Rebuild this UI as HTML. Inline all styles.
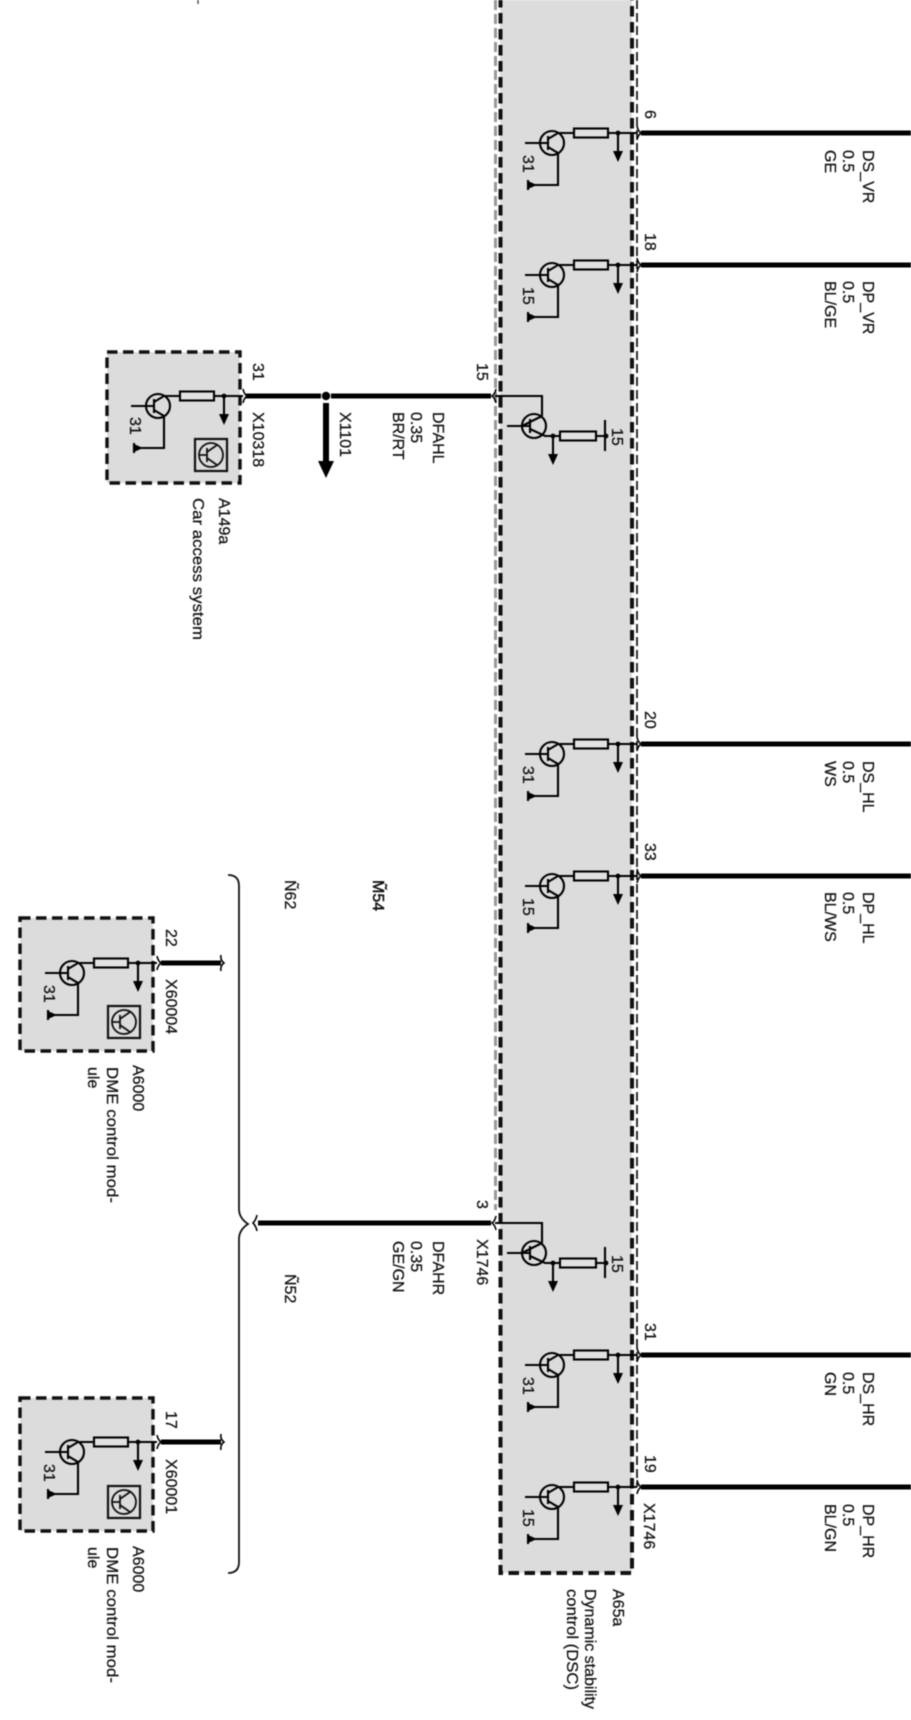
<!DOCTYPE html>
<html><head><meta charset="utf-8"><style>
html,body{margin:0;padding:0;background:#fff;width:911px;height:1720px;overflow:hidden}
svg{display:block;filter:blur(.4px)}
text{font-family:"Liberation Sans",sans-serif;font-size:16px;fill:#111;stroke:#111;stroke-width:.25px}
</style></head><body>
<svg width="911" height="1720" viewBox="0 0 911 1720" xmlns="http://www.w3.org/2000/svg">
<defs>
<g id="drv" fill="none" stroke="#000" stroke-width="2.1">
<circle cx="0" cy="10" r="12"/>
<path d="M-27 10H-4M-4 3V17M-4 6L6 0H22M-4 14L6 20V52H-24M-24 47V57M56 0H85M66 0V20"/>
<rect x="22" y="-4.5" width="34" height="9" fill="#e2e2e2"/>
<circle cx="66" cy="0" r="2.4" fill="#000" stroke="none"/>
<path d="M61 18H71L66 29Z" fill="#000" stroke="none"/>
<path d="M-24 48L-15 52L-24 56Z" fill="#000" stroke="none"/>
<path d="M85 -7Q86 -2 89 0Q86 2 85 7" stroke-width="1.6"/>
</g>
<g id="rcv" fill="none" stroke="#000" stroke-width="2.1">
<path d="M496 -7Q495 -2 492 0Q495 2 496 7" stroke-width="1.6"/>
<path d="M495 0H542V20M522 30L542 20M507 30H530M530 23V37M530 33L545 40H605M553 40V60M605 24V55"/>
<circle cx="534" cy="30" r="12"/>
<rect x="560" y="35.5" width="36" height="9" fill="#e2e2e2"/>
<circle cx="553" cy="40" r="2.4" fill="#000" stroke="none"/>
<circle cx="606" cy="40" r="2.4" fill="#000" stroke="none"/>
<path d="M548 58H558L553 69Z" fill="#000" stroke="none"/>
</g>
<g id="ico" fill="none" stroke="#111" stroke-width="1.8">
<rect x="-16" y="-16" width="32" height="32" stroke-width="2.2"/>
<circle cx="0" cy="0" r="12"/>
<path d="M-12 0H-4M-4 -7V7M-4 -3L6 -10M-4 3L6 10"/>
</g>
</defs>

<path d="M198 0V4" stroke="#555" stroke-width="1.5"/>

<!-- main box -->
<rect x="500" y="-5" width="132" height="1578" fill="#dcdcdc"/>
<path d="M495.5 0V1210" stroke="#999" stroke-width="3" stroke-dasharray="10 4" fill="none"/>
<path d="M637 0V1487" stroke="#111" stroke-width="1.7" stroke-dasharray="9 4" fill="none"/>
<path d="M500.5 -3V1573H632V-3" stroke="#111" stroke-width="4" stroke-dasharray="10.5 5.5" fill="none"/>

<!-- small boxes -->
<g fill="#dcdcdc" stroke="#111" stroke-width="3.4" stroke-dasharray="10.5 5.5">
<rect x="107" y="352" width="133" height="131"/>
<rect x="20" y="918" width="133" height="133"/>
<rect x="20" y="1398" width="133" height="133"/>
</g>

<use href="#drv" x="552" y="133"/>
<use href="#drv" x="552" y="265"/>
<use href="#drv" x="552" y="744"/>
<use href="#drv" x="552" y="876"/>
<use href="#drv" x="552" y="1355"/>
<use href="#drv" x="552" y="1487"/>
<use href="#drv" x="158" y="396"/>
<use href="#drv" x="72" y="963"/>
<use href="#drv" x="72" y="1442"/>
<use href="#rcv" x="0" y="396"/>
<use href="#rcv" x="0" y="1223"/>
<use href="#ico" x="211" y="455"/>
<use href="#ico" x="124" y="1022"/>
<use href="#ico" x="124" y="1502"/>

<!-- wires -->
<g stroke="#000" stroke-width="5" fill="none">
<path d="M641 133H911M641 265H911M641 744H911M641 876H911M641 1355H911M641 1487H911"/>
<path d="M246 396H321M331 396H491M258 1223H491M161 963H221M161 1442H221"/>
</g>
<path d="M221 955Q220 960 224 963Q220 966 221 971M221 1434Q220 1439 224 1442Q220 1445 221 1450" fill="none" stroke="#000" stroke-width="1.6"/>
<path d="M257 1215Q256 1220 253 1223Q256 1226 257 1231" fill="none" stroke="#000" stroke-width="1.6"/>
<circle cx="326" cy="396" r="4.2" fill="#000"/>
<path d="M326 403V466" stroke="#000" stroke-width="6"/>
<path d="M318 461H334L326 478Z" fill="#000"/>

<!-- brace -->
<path d="M228 875Q239 875 239 886V1209Q239 1218 248 1224Q239 1230 239 1239V1562Q239 1573 228 1573" fill="none" stroke="#111" stroke-width="1.8"/>

<!-- pin numbers -->
<text transform="translate(645,110) rotate(90)">6</text>
<text transform="translate(645,233) rotate(90)">18</text>
<text transform="translate(477,363) rotate(90)">15</text>
<text transform="translate(645,711) rotate(90)">20</text>
<text transform="translate(645,843) rotate(90)">33</text>
<text transform="translate(477,1200) rotate(90)">3</text>
<text transform="translate(645,1323) rotate(90)">31</text>
<text transform="translate(645,1455) rotate(90)">19</text>
<text transform="translate(253,363) rotate(90)">31</text>
<text transform="translate(166,929) rotate(90)">22</text>
<text transform="translate(166,1411) rotate(90)">17</text>

<!-- internal supply labels -->
<text transform="translate(523,155) rotate(90)">31</text>
<text transform="translate(523,287) rotate(90)">15</text>
<text transform="translate(523,766) rotate(90)">31</text>
<text transform="translate(523,898) rotate(90)">15</text>
<text transform="translate(523,1377) rotate(90)">31</text>
<text transform="translate(523,1509) rotate(90)">15</text>
<text transform="translate(612,428) rotate(90)">15</text>
<text transform="translate(612,1255) rotate(90)">15</text>
<text transform="translate(130,417) rotate(90)">31</text>
<text transform="translate(44,985) rotate(90)">31</text>
<text transform="translate(44,1464) rotate(90)">31</text>

<!-- wire labels right -->
<text transform="translate(863,150) rotate(90)">DS_VR</text>
<text transform="translate(843,150) rotate(90)">0.5</text>
<text transform="translate(825,150) rotate(90)">GE</text>
<text transform="translate(863,281) rotate(90)">DP_VR</text>
<text transform="translate(843,281) rotate(90)">0.5</text>
<text transform="translate(825,281) rotate(90)">BL/GE</text>
<text transform="translate(863,761) rotate(90)">DS_HL</text>
<text transform="translate(843,761) rotate(90)">0.5</text>
<text transform="translate(825,761) rotate(90)">WS</text>
<text transform="translate(863,892) rotate(90)">DP_HL</text>
<text transform="translate(843,892) rotate(90)">0.5</text>
<text transform="translate(825,892) rotate(90)">BL/WS</text>
<text transform="translate(863,1372) rotate(90)">DS_HR</text>
<text transform="translate(843,1372) rotate(90)">0.5</text>
<text transform="translate(825,1372) rotate(90)">GN</text>
<text transform="translate(863,1504) rotate(90)">DP_HR</text>
<text transform="translate(843,1504) rotate(90)">0.5</text>
<text transform="translate(825,1504) rotate(90)">BL/GN</text>
<text transform="translate(644,1503) rotate(90)">X1746</text>

<!-- middle labels -->
<text transform="translate(433,412) rotate(90)">DFAHL</text>
<text transform="translate(411,412) rotate(90)">0.35</text>
<text transform="translate(393,412) rotate(90)">BR/RT</text>
<text transform="translate(340,412) rotate(90)">X1101</text>
<text transform="translate(253,412) rotate(90)">X10318</text>
<text transform="translate(219,498) rotate(90)">A149a</text>
<text transform="translate(193,498) rotate(90)" textLength="142" lengthAdjust="spacingAndGlyphs">Car access system</text>

<text transform="translate(433,1241) rotate(90)">DFAHR</text>
<text transform="translate(411,1241) rotate(90)">0.35</text>
<text transform="translate(393,1241) rotate(90)">GE/GN</text>
<text transform="translate(477,1239) rotate(90)">X1746</text>

<text transform="translate(285,880) rotate(90)">Ñ62</text>
<text transform="translate(373,880) rotate(90)" style="stroke-width:.5px">M̃54</text>
<text transform="translate(285,1274) rotate(90)">Ñ52</text>

<!-- DME labels -->
<text transform="translate(166,979) rotate(90)">X60004</text>
<text transform="translate(133,1065) rotate(90)">A6000</text>
<text transform="translate(107,1067) rotate(90)" textLength="136" lengthAdjust="spacingAndGlyphs">DME control mod-</text>
<text transform="translate(88,1067) rotate(90)">ule</text>
<text transform="translate(166,1459) rotate(90)">X60001</text>
<text transform="translate(133,1546) rotate(90)">A6000</text>
<text transform="translate(107,1547) rotate(90)" textLength="136" lengthAdjust="spacingAndGlyphs">DME control mod-</text>
<text transform="translate(88,1547) rotate(90)">ule</text>

<!-- DSC labels -->
<text transform="translate(613,1589) rotate(90)">A65a</text>
<text transform="translate(585,1589) rotate(90)" textLength="120" lengthAdjust="spacingAndGlyphs">Dynamic stability</text>
<text transform="translate(567,1589) rotate(90)" textLength="101" lengthAdjust="spacingAndGlyphs">control (DSC)</text>
</svg>
</body></html>
